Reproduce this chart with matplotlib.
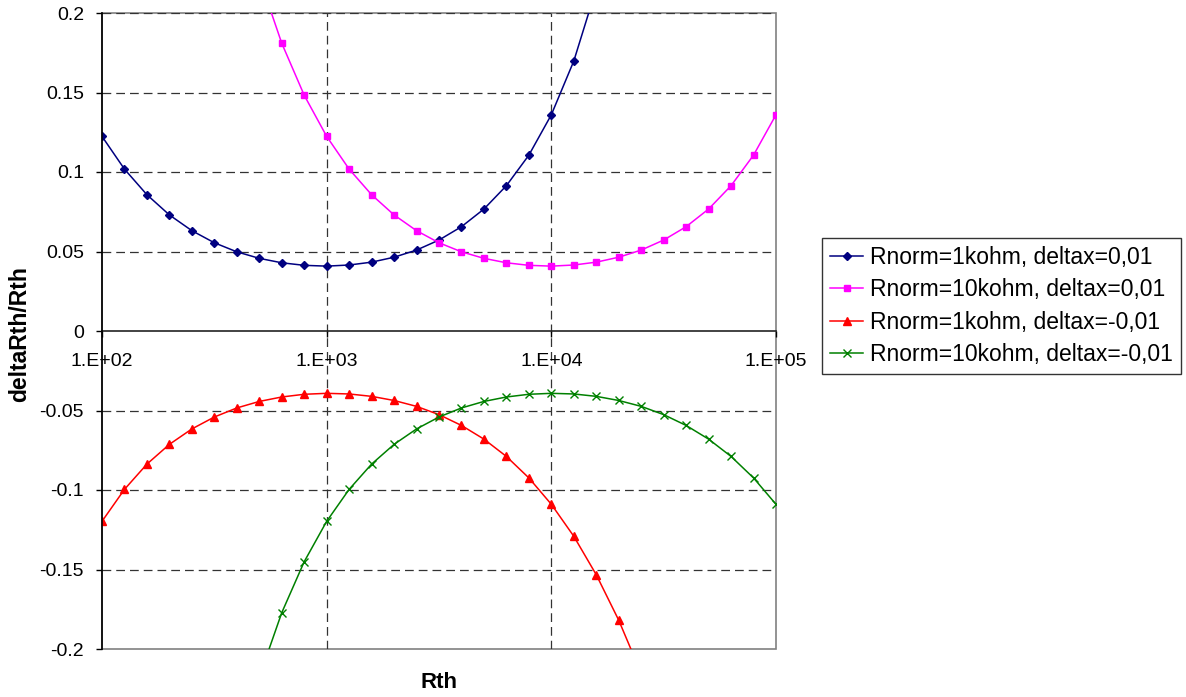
import matplotlib
matplotlib.use("Agg")
import matplotlib.pyplot as plt
import numpy as np
from matplotlib.patches import Rectangle

plt.rcParams['font.family'] = ['Liberation Sans', 'DejaVu Sans']

nan = np.nan

# Rth values (10 points per decade)
rth = [100, 125.9, 158.5, 199.5, 251.2, 316.2, 398.1, 501.2, 631.0, 794.3,
       1000, 1259, 1585, 1995, 2512, 3162, 3981, 5012, 6310, 7943,
       10000, 12589, 15849, 19953, 25119, 31623, 39811, 50119, 63096, 79433,
       100000]

# Rnorm=1kohm, deltax=0,01
s1k_pos = [0.1224, 0.1018, 0.0857, 0.0730, 0.0631, 0.0555, 0.0498, 0.0457, 0.0429, 0.0413,
           0.0408, 0.0415, 0.0433, 0.0464, 0.0509, 0.0572, 0.0656, 0.0767, 0.0914, 0.1106,
           0.1360, 0.1698, 0.2154, nan, nan, nan, nan, nan, nan, nan,
           nan]

# Rnorm=10kohm, deltax=0,01
s10k_pos = [nan, nan, nan, nan, nan, nan, nan, 0.2224, 0.1810, 0.1483,
            0.1224, 0.1018, 0.0857, 0.0730, 0.0631, 0.0555, 0.0498, 0.0457, 0.0429, 0.0413,
            0.0408, 0.0415, 0.0433, 0.0464, 0.0509, 0.0572, 0.0656, 0.0767, 0.0914, 0.1106,
            0.1360]

# Rnorm=1kohm, deltax=-0,01
s1k_neg = [-0.1197, -0.0996, -0.0837, -0.0713, -0.0616, -0.0541, -0.0484, -0.0443, -0.0415, -0.0398,
           -0.0392, -0.0396, -0.0411, -0.0437, -0.0474, -0.0526, -0.0594, -0.0680, -0.0789, -0.0924,
           -0.1090, -0.1291, -0.1533, -0.1819, -0.2154, nan, nan, nan, nan, nan,
           nan]

# Rnorm=10kohm, deltax=-0,01
s10k_neg = [nan, nan, nan, nan, nan, nan, nan, -0.2177, -0.1772, -0.1451,
            -0.1197, -0.0996, -0.0837, -0.0713, -0.0616, -0.0541, -0.0484, -0.0443, -0.0415, -0.0398,
            -0.0392, -0.0396, -0.0411, -0.0437, -0.0474, -0.0526, -0.0594, -0.0680, -0.0789, -0.0924,
            -0.1090]

labels = ["Rnorm=1kohm, deltax=0,01", "Rnorm=10kohm, deltax=0,01",
          "Rnorm=1kohm, deltax=-0,01", "Rnorm=10kohm, deltax=-0,01"]

x_ticks = [1e2, 1e3, 1e4, 1e5]
x_ticklabels = ["1.E+02", "1.E+03", "1.E+04", "1.E+05"]
y_ticks = [-0.2, -0.15, -0.1, -0.05, 0, 0.05, 0.1, 0.15, 0.2]
y_ticklabels = ["-0.2", "-0.15", "-0.1", "-0.05", "0", "0.05", "0.1", "0.15", "0.2"]

W, H = 1186, 697
fig = plt.figure(figsize=(W / 100, H / 100), dpi=100)
ax = fig.add_axes([102 / W, 1 - 649 / H, (776 - 102) / W, (649 - 13) / H])
ax.set_xscale("log")
ax.set_xlim(1e2, 1e5)
ax.set_ylim(-0.2, 0.2)

# gridlines (dashed)
grid_kw = dict(color="#333333", lw=0.9, dashes=(7, 4), zorder=1)
for yv in [0.2, 0.15, 0.1, 0.05, -0.05, -0.1, -0.15]:
    ax.axhline(yv, **grid_kw)
for xv in [1e3, 1e4]:
    ax.axvline(xv, **grid_kw)

# plot area border
ax.add_patch(Rectangle((0, 0), 1, 1, transform=ax.transAxes, fill=False,
                       ec="#808080", lw=1.2, zorder=0.5, clip_on=False))

ax.plot(rth, s1k_pos, color="#000080", lw=1.1, marker="D", ms=4.0, label=labels[0], zorder=3)
ax.plot(rth, s10k_pos, color="#FF00FF", lw=1.1, marker="s", ms=4.5, label=labels[1], zorder=3)
ax.plot(rth, s1k_neg, color="#FF0000", lw=1.1, marker="^", ms=5.4, label=labels[2], zorder=3)
ax.plot(rth, s10k_neg, color="#008000", lw=1.1, marker="x", ms=5.2, mew=1, label=labels[3], zorder=3)

for s in ["top", "right"]:
    ax.spines[s].set_visible(False)
ax.spines["left"].set_color("black")
ax.spines["left"].set_linewidth(1.2)
ax.spines["bottom"].set_position(("data", 0))
ax.spines["bottom"].set_color("#222222")
ax.spines["bottom"].set_linewidth(1.2)
ax.spines["left"].set_zorder(4)

ax.set_xticks(x_ticks)
ax.set_xticklabels(x_ticklabels)
ax.xaxis.set_minor_locator(matplotlib.ticker.NullLocator())
ax.set_yticks(y_ticks)
ax.set_yticklabels(y_ticklabels)
ax.tick_params(axis="x", direction="out", length=4, width=1, pad=12, labelsize=14)
ax.tick_params(axis="y", direction="out", length=4, width=1, pad=9, labelsize=14)

fig.text(20 / W, 1 - 334 / H, "deltaRth/Rth", rotation=90, ha="center", va="center",
         fontsize=16.5, fontweight="bold")
fig.text(439 / W, 1 - 683 / H, "Rth", ha="center", va="center",
         fontsize=16, fontweight="bold")

leg = fig.legend(loc="center left", bbox_to_anchor=(822 / W, 1 - 306 / H),
                 bbox_transform=fig.transFigure, fontsize=16.5, frameon=True,
                 fancybox=False, edgecolor="black", handlelength=1.45,
                 handletextpad=0.3, labelspacing=0.4, borderpad=0.35,
                 borderaxespad=0)
leg.get_frame().set_linewidth(1)

fig.savefig("out.png", dpi=100)
